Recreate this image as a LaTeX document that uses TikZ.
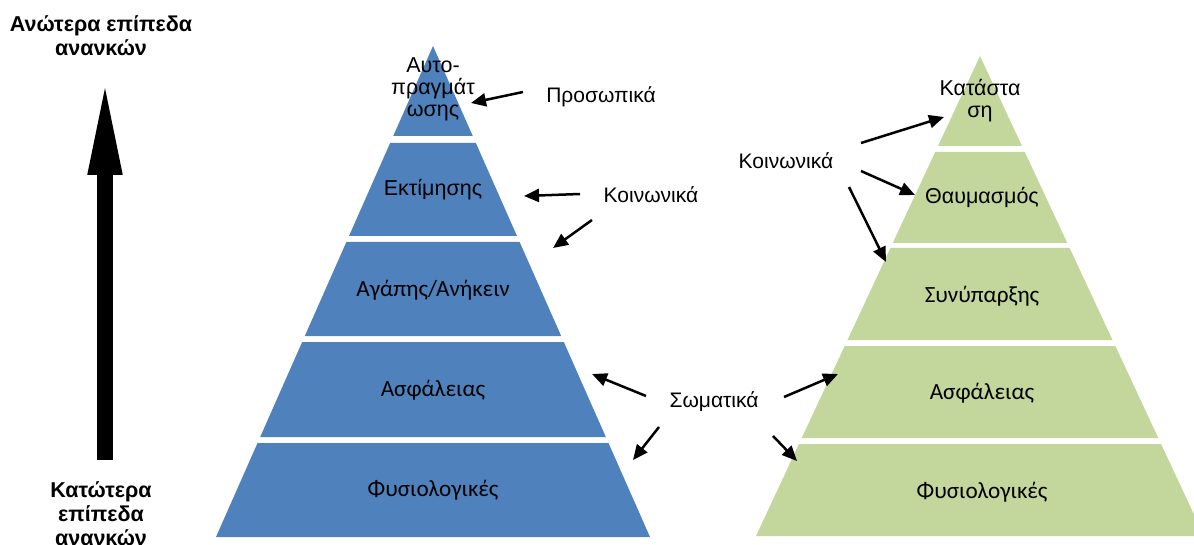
\documentclass[tikz,border=0pt]{standalone}
\usepackage{fontspec}
\setmainfont{Liberation Sans}
\newfontfamily\calfont{Carlito}
\usetikzlibrary{arrows.meta}

\definecolor{pyrblue}{HTML}{4F81BD}
\definecolor{pyrgreen}{HTML}{C3D69B}

% one horizontal slice of a pyramid: centre x, apex y, slope, top y, bottom y, colour
\newcommand\pyrslice[6]{%
  \fill[#6] ({#1-#3*(#4-#2)},#4) -- ({#1+#3*(#4-#2)},#4)
    -- ({#1+#3*(#5-#2)},#5) -- ({#1-#3*(#5-#2)},#5) -- cycle;}

\tikzset{
  lbl/.style={font=\fontsize{21}{23}\selectfont, align=center, inner sep=0pt},
  lvlA/.style={font=\fontsize{21.5}{22}\selectfont, align=center, inner sep=0pt},
  lvlC/.style={font=\calfont\fontsize{23.2}{26}\selectfont, align=center, inner sep=0pt},
  side/.style={font=\bfseries\fontsize{21.5}{24}\selectfont, align=center, inner sep=0pt},
  pointer/.style={line width=2.5pt, -{Triangle[length=15pt,width=13pt]}},
}

\begin{document}
\begin{tikzpicture}[x=1pt,y=-1pt]
\useasboundingbox (0,0) rectangle (1194,545);

% blue pyramid
\pyrslice{433}{46}{0.442}{46}{136}{pyrblue}
\pyrslice{433}{46}{0.442}{143}{236}{pyrblue}
\pyrslice{433}{46}{0.442}{242}{336}{pyrblue}
\pyrslice{433}{46}{0.442}{342}{437}{pyrblue}
\pyrslice{433}{46}{0.442}{443}{537}{pyrblue}

% green pyramid
\pyrslice{980}{56}{0.4667}{56}{146}{pyrgreen}
\pyrslice{980}{56}{0.4667}{152}{243}{pyrgreen}
\pyrslice{980}{56}{0.4667}{248}{340}{pyrgreen}
\pyrslice{980}{56}{0.4667}{346}{438}{pyrgreen}
\pyrslice{980}{56}{0.4667}{444}{536}{pyrgreen}

% level labels, blue
\node[lvlA] (b1) at (433,89) {Αυτο-\\πραγμάτ\\ωσης};
\node[lvlA] (b2) at (433,190) {Εκτίμησης};
\node[lvlC] (b3) at (433,290) {Αγάπης/Ανήκειν};
\node[lvlC] (b4) at (433,390) {Ασφάλειας};
\node[lvlC] (b5) at (433,490) {Φυσιολογικές};

% level labels, green
\node[lvlA] (g1) at (980,101) {Κατάστα\\ση};
\node[lvlA] (g2) at (982,197) {Θαυμασμός};
\node[lvlC] (g3) at (982,296) {Συνύπαρξης};
\node[lvlC] (g4) at (982,393) {Ασφάλειας};
\node[lvlC] (g5) at (982,492) {Φυσιολογικές};

% category labels
\node[lbl] (pers) at (601,97) {Προσωπικά};
\node[lbl] (socB) at (651,195) {Κοινωνικά};
\node[lbl] (body) at (714,402) {Σωματικά};
\node[lbl] (socG) at (786,161) {Κοινωνικά};

% side labels
\node[side] (hi) at (101,36) {Ανώτερα επίπεδα\\ανανκών};
\node[side] (lo) at (101,514) {Κατώτερα\\επίπεδα\\ανανκών};

% big upward arrow
\coordinate (upS) at (105,460);
\coordinate (upE) at (105,73);
\draw[line width=16pt, -{Triangle[length=102pt,width=30pt]}] (upS) -- (upE);

% pointer ends
\coordinate (p1s) at (523,92);  \coordinate (p1e) at (471,103);
\coordinate (k1s) at (580,194); \coordinate (k1e) at (524,196);
\coordinate (k2s) at (592,220); \coordinate (k2e) at (553,248);
\coordinate (s1s) at (646,396); \coordinate (s1e) at (592,374);
\coordinate (s2s) at (659,427); \coordinate (s2e) at (633,460);
\coordinate (s3s) at (784,397); \coordinate (s3e) at (838,374);
\coordinate (s4s) at (773,436); \coordinate (s4e) at (797,461);
\coordinate (g1s) at (861,143); \coordinate (g1e) at (944,117);
\coordinate (g2s) at (861,171); \coordinate (g2e) at (915,195);
\coordinate (g3s) at (849,187); \coordinate (g3e) at (886,262);

\foreach \a in {p1,k1,k2,s1,s2,s3,s4,g1,g2,g3}
  \draw[pointer] (\a s) -- (\a e);
\end{tikzpicture}
\end{document}
